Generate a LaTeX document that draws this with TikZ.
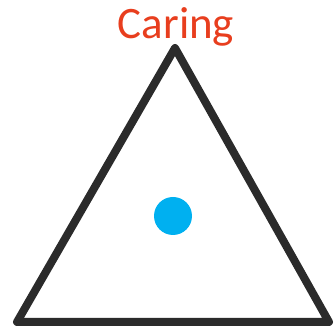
\documentclass[tikz,border=0pt]{standalone}
\usepackage{fontspec}
\setmainfont{Carlito}
\usepackage{tikz}
\usetikzlibrary{positioning}
\definecolor{edgeclr}{RGB}{43,43,43}
\definecolor{careclr}{RGB}{232,62,30}
\definecolor{dotclr}{RGB}{0,176,240}
\tikzset{
    tri/.style={draw=edgeclr,line width=8pt,line join=round},
    marker/.style={circle,fill=dotclr,minimum size=38pt,inner sep=0pt},
    corner/.style={font=\fontsize{45}{50}\selectfont,text=careclr,inner sep=0pt,anchor=base},
}

\begin{document}
\begin{tikzpicture}[x=1pt,y=-1pt]
\useasboundingbox (0,0) rectangle (335,328);
\coordinate (A) at (175,48);
\coordinate (L) at (17,322);
\coordinate (R) at (329,322);

\draw[tri] (A) -- (L) -- (R) -- cycle;
\node[corner] (care) at (176,39) {Caring};
\node[marker] (pt) at (173,216) {};
\end{tikzpicture}
\end{document}
